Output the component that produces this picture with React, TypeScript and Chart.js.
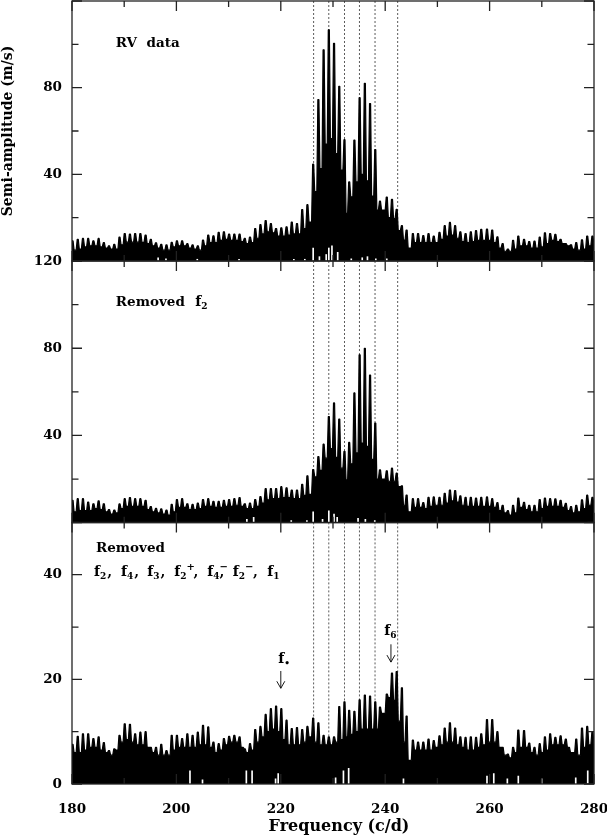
import { useEffect, useRef } from 'react';
import { Chart, registerables, type Plugin } from 'chart.js';

Chart.register(...registerables);

const SERIF = '"DejaVu Serif", serif';

// frequencies of the daily alias comb (c/d)
const peakFreq = [
  180.1, 181.1, 182.1, 183.1, 184.1, 185.1, 186.1, 187.1, 188.1, 189.1, 190.1, 191.1, 192.1, 193.1, 194.1, 195.1,
  196.1, 197.1, 198.1, 199.1, 200.1, 201.1, 202.1, 203.1, 204.1, 205.1, 206.1, 207.1, 208.1, 209.1, 210.1, 211.1,
  212.1, 213.1, 214.1, 215.1, 216.1, 217.1, 218.1, 219.1, 220.1, 221.1, 222.1, 223.1, 224.1, 225.1,
  226.2, 227.2, 228.2, 229.2, 230.2, 231.2, 232.2, 233.1, 234.1, 235.1, 236.1, 237.1, 238.1, 239.0, 240.3, 241.3,
  242.2, 243.2, 244.1,
  245.3, 246.3, 247.3, 248.3, 249.3, 250.4, 251.4, 252.4, 253.4, 254.4, 255.4, 256.4, 257.4, 258.4, 259.5, 260.5,
  261.5, 262.5, 263.5, 264.5, 265.5, 266.6, 267.6, 268.6, 269.6, 270.6, 271.6, 272.6, 273.6, 274.6, 275.6, 276.6,
  277.7, 278.7, 279.7,
];

// RV data: height of each alias peak, and the level of the block after it
const rvPeaks = [
  9.3, 10, 10.4, 10.4, 9.3, 10.4, 8.5, 7, 7.7, 11, 12.7, 12.4, 12.7, 12.7, 12, 10, 8.4, 7.7, 7.4, 8.6, 9.3, 9.3, 8, 7.4, 7,
  9.7, 12, 11.6, 13.2, 13.5, 12.4, 12.4, 12.4, 10.4, 11, 15, 16.8, 18.7, 17.3, 15, 15.3, 15.8, 18, 17.3, 23.7, 26,
  44.7, 74.5, 97.5, 106.7, 100.5, 80.6, 56, 36.5, 55.8, 75.4, 82, 72.7, 51.4, 27.6, 29.5, 28.5, 23.8, 16.3, 14.3,
  12.7, 12.7, 11.7, 12.7, 11.5, 13.2, 16.3, 17.8, 16.3, 13.5, 12.7, 13.5, 14, 14.6, 14.7, 14.3, 11.2, 8, 5.5,
  9.5, 11.5, 10, 9, 9.2, 11, 13, 12.7, 12.3, 10, 8, 7.5, 8.5, 9.8, 11.5, 11.5,
];
const rvBody = [
  5, 5.5, 6.5, 7, 7, 6.5, 6, 5.5, 5.5, 7.5, 8.7, 8.7, 8.7, 8.6, 8, 7, 6, 5, 5, 6.5, 7, 7, 6, 5.5, 5,
  7, 8.5, 8.5, 9.5, 10, 9.5, 9.5, 9, 8, 8.5, 10.5, 12.5, 13.5, 13, 11.5, 11.5, 12, 12.5, 12.5, 15, 18,
  32, 42.7, 54, 56.5, 49.6, 42, 22, 29.6, 36.5, 40, 37, 30, 23.5, 23.5, 20, 19.6, 14, 9.7, 6,
  8.5, 8.5, 8.5, 8.5, 8.5, 10, 11.5, 12, 10.5, 9, 8.5, 9, 9.5, 9.5, 9.5, 8.5, 6, 4.5, 4.5,
  5.5, 7, 7, 6, 6, 6.5, 8, 9.5, 9, 8, 7, 5.5, 5, 5.5, 7, 7.5,
];

// after removing f2
const f2Peaks = [
  10.3, 11, 11, 9.5, 8.7, 10, 8.7, 6, 5.8, 8.6, 11, 11.5, 11, 11, 10.3, 7.4, 6.6, 6.3, 5.8, 8.4, 10.6, 11, 8.7, 8.4, 9,
  10.6, 11, 9.8, 9.8, 10.3, 10.6, 11, 11.5, 8.7, 9, 10.6, 12, 15.6, 15.6, 15.6, 16.5, 16, 15, 15, 17.6, 21.5,
  24.4, 30.3, 36, 48.7, 54.9, 47.5, 32.7, 36.8, 59.5, 77, 80, 67.7, 45.7, 24.2, 23.8, 25, 22.7, 16.9, 12.7,
  11, 11, 9.2, 11.6, 11.8, 11.6, 13.5, 15, 14.7, 12.3, 11.6, 11.6, 11.3, 11.6, 11.8, 11, 9.2, 8, 5.5,
  8, 11.3, 9.3, 8, 8, 10.6, 11.3, 11, 10.9, 10.3, 8.9, 7.4, 8, 10.5, 12.6, 11.6,
];
const f2Body = [
  5, 5.5, 5.5, 5.5, 6.5, 6, 5, 4, 4.5, 6.5, 7.5, 7.5, 7.5, 7.5, 6, 5, 4.5, 4, 3.5, 5, 7, 7, 6, 6, 6.5,
  7.5, 7.5, 7, 7, 7.5, 7.5, 8, 7.5, 6.5, 6.5, 7.5, 9, 10.5, 11, 11, 11.5, 11.5, 11, 11, 12.5, 13,
  21, 24, 29.6, 34, 30, 25, 19.6, 27, 32, 36.5, 35, 29, 20, 20, 19, 19, 16.5, 8, 5,
  7, 7, 6.5, 7.5, 8, 8, 9, 10, 9.5, 8, 7.5, 7.5, 7.5, 7.5, 7.5, 7, 5.5, 4.5, 3.5,
  4.5, 7, 6, 5, 5, 6.5, 7.5, 7.5, 7.5, 7, 5.5, 4.5, 5, 6.5, 8, 8,
];

// after removing all seven frequencies
const allPeaks = [
  7.6, 9.1, 9.6, 9.6, 8.7, 9, 7.9, 6.4, 6.7, 9.3, 11.5, 11.4, 9.6, 9.9, 10, 7, 7, 7.6, 6.4, 9.3, 9.3, 8.7, 9.6, 9.3, 9.9,
  11.2, 10.9, 8, 7.7, 8.7, 9.1, 9.3, 9, 6.7, 7.7, 10.4, 11, 13.3, 14.4, 14.9, 14.4, 12.2, 10.6, 10.8, 10.4, 11,
  12.6, 11.7, 9.3, 9, 9, 14.8, 15.7, 14.1, 13.9, 16.1, 17, 16.8, 15.7, 14.7, 17.2, 21.2, 21.5, 18.4, 13,
  8.4, 8, 8, 8.6, 8.3, 9.2, 10.7, 11.7, 10.7, 9, 8.9, 9, 8.9, 9.6, 12.3, 12.3, 10, 7, 5.7,
  7, 10.3, 10.2, 7.8, 7, 7.7, 9, 9.6, 8.9, 9.2, 8.6, 6, 8.6, 10.7, 11, 10,
];
const allBody = [
  6, 6, 6.5, 7, 7, 6.5, 6, 5.5, 6.5, 8, 8.5, 8, 7.5, 7.5, 7, 6, 5.5, 5.5, 5.5, 6.5, 7, 7, 7, 7, 7.5,
  7.5, 7, 6, 6.5, 7.5, 8, 8, 7, 6, 6.5, 8, 9, 10, 10.5, 10, 8.5, 7.5, 7.5, 7.5, 8, 9,
  8, 7.5, 7.5, 7.5, 8, 8.5, 9, 9.5, 10, 10.5, 10.5, 10.5, 10.5, 13.5, 16.5, 16, 12, 8, 4.5,
  6.5, 6.5, 6.5, 6.5, 7, 7.5, 8, 8, 7.5, 7, 6.5, 6.5, 7, 7.5, 8, 8, 7, 5.5, 5,
  6, 7, 7, 6, 5.5, 6, 6.5, 7.5, 7.5, 7.5, 7, 6, 5.5, 7, 7.5, 7.5,
];

// thin white slits left at the foot of each periodogram
const rvGapFreq = [196.5, 198, 204, 212, 222.5, 224.6, 226.2, 227.4, 228.7, 229.2, 229.8, 230.9, 233.5, 235.6, 236.6, 238.2, 240.3];
const rvGapHeight = [1.5, 1, 0.8, 0.8, 0.8, 0.8, 6, 2, 3, 6, 7, 4, 1, 1.5, 2, 1, 1];
const f2GapFreq = [213.5, 214.8, 222, 225, 226.2, 228, 229.2, 230.2, 230.8, 234.8, 236.2, 238];
const f2GapHeight = [1.5, 2.5, 1, 1, 5, 1.5, 5.5, 4, 2.5, 2, 1.5, 1];
const allGapFreq = [202.6, 205, 213.4, 214.5, 219, 219.5, 230.5, 232, 233, 243.5, 259.5, 260.8, 263.4, 265.5, 270, 276.5, 278.8];
const allGapHeight = [2.5, 0.8, 2.5, 2.5, 1, 2, 1.2, 2.5, 3, 1, 1.5, 2, 1, 1.5, 1, 1.2, 2.5];

// dashed lines mark the known frequencies
const knownFreq = [226.3, 229.2, 232.2, 235.05, 238.05, 242.4];

const xTickLabels = [180, 200, 220, 240, 260, 280];

function envelope(peaks: number[], body: number[]) {
  const pts: { x: number; y: number }[] = [];
  peakFreq.forEach((f, i) => {
    pts.push({ x: f - 0.3, y: i > 0 ? body[i - 1] : body[0] });
    pts.push({ x: f - 0.1, y: peaks[i] });
    pts.push({ x: f + 0.1, y: peaks[i] });
    pts.push({ x: f + 0.3, y: body[i] });
  });
  return pts;
}

interface Symbol {
  f: number;
  v: number;
  sub?: string;
  sup?: string;
  tail?: string;
  tailGap?: number;
}
interface Note {
  text: string;
  f: number;
  v: number;
}
interface Arrow {
  f: number;
  from: number;
  to: number;
}

interface PanelProps {
  top: number;
  bottom: number;
  max: number;
  step: number;
  majorStep: number;
  labels: number[];
  peaks: number[];
  body: number[];
  gapFreq: number[];
  gapHeight: number[];
  notes: Note[];
  symbols: Symbol[];
  arrows: Arrow[];
  yTitle?: string;
  xAxis?: boolean;
}

function drawSymbol(ctx: CanvasRenderingContext2D, x: number, y: number, s: Symbol) {
  ctx.font = `bold 14px ${SERIF}`;
  ctx.fillText('f', x, y);
  const w = ctx.measureText('f').width;
  ctx.font = `bold 9px ${SERIF}`;
  let end = x + w;
  if (s.sub) {
    ctx.fillText(s.sub, x + w, y + 3);
    end += ctx.measureText(s.sub).width;
  }
  if (s.sup) {
    ctx.font = `bold 10px ${SERIF}`;
    ctx.fillText(s.sup, end, y - 6);
  }
  if (s.tail) {
    ctx.font = `bold 14px ${SERIF}`;
    ctx.fillText(s.tail, end + (s.tailGap ?? 1), y);
  }
}

function Panel(props: PanelProps) {
  const canvasRef = useRef<HTMLCanvasElement>(null);

  useEffect(() => {
    if (!canvasRef.current) return;
    const { top, bottom, max, step, majorStep, labels, notes, symbols, arrows } = props;

    const dashes: Plugin = {
      id: 'dashes',
      beforeDatasetsDraw(chart) {
        const { ctx, chartArea, scales } = chart;
        ctx.save();
        ctx.strokeStyle = '#333';
        ctx.lineWidth = 0.8;
        ctx.setLineDash([2, 2]);
        knownFreq.forEach((f) => {
          const x = scales.x.getPixelForValue(f);
          ctx.beginPath();
          ctx.moveTo(x, chartArea.top);
          ctx.lineTo(x, chartArea.bottom);
          ctx.stroke();
        });
        ctx.restore();
      },
    };

    const frame: Plugin = {
      id: 'frame',
      afterDatasetsDraw(chart) {
        const { ctx, chartArea: a, scales } = chart;
        ctx.save();
        ctx.strokeStyle = '#222';
        ctx.lineWidth = 1.3;
        ctx.strokeRect(a.left, a.top, a.right - a.left, a.bottom - a.top);
        // ticks point inward on all four sides
        ctx.beginPath();
        scales.x.ticks.forEach((t) => {
          const x = scales.x.getPixelForValue(t.value);
          const len = t.value % 20 === 0 ? 10 : 6;
          ctx.moveTo(x, a.bottom);
          ctx.lineTo(x, a.bottom - len);
          ctx.moveTo(x, a.top);
          ctx.lineTo(x, a.top + len);
        });
        scales.y.ticks.forEach((t) => {
          const y = scales.y.getPixelForValue(t.value);
          const len = t.value % majorStep === 0 ? 10 : 6.5;
          ctx.moveTo(a.left, y);
          ctx.lineTo(a.left + len, y);
          ctx.moveTo(a.right, y);
          ctx.lineTo(a.right - len, y);
        });
        ctx.stroke();

        ctx.fillStyle = '#000';
        ctx.textAlign = 'left';
        ctx.textBaseline = 'alphabetic';
        notes.forEach((n) => {
          ctx.font = `bold 13.5px ${SERIF}`;
          ctx.fillText(n.text, scales.x.getPixelForValue(n.f), scales.y.getPixelForValue(n.v));
        });
        symbols.forEach((s) => {
          drawSymbol(ctx, scales.x.getPixelForValue(s.f), scales.y.getPixelForValue(s.v), s);
        });
        ctx.strokeStyle = '#000';
        ctx.lineWidth = 0.9;
        arrows.forEach((ar) => {
          const x = scales.x.getPixelForValue(ar.f);
          const y0 = scales.y.getPixelForValue(ar.from);
          const y1 = scales.y.getPixelForValue(ar.to);
          ctx.beginPath();
          ctx.moveTo(x, y0);
          ctx.lineTo(x, y1);
          ctx.moveTo(x - 4, y1 - 7);
          ctx.lineTo(x, y1);
          ctx.lineTo(x + 4, y1 - 7);
          ctx.stroke();
        });
        if (props.xAxis) {
          ctx.font = `bold 16px ${SERIF}`;
          ctx.textAlign = 'center';
          ctx.fillText('Frequency (c/d)', 339, 831);
        }
        ctx.restore();
      },
    };

    const chart = new Chart(canvasRef.current, {
      type: 'line',
      data: {
        datasets: [
          {
            type: 'bar',
            data: props.gapFreq.map((f, i) => ({ x: f, y: props.gapHeight[i] })),
            backgroundColor: '#fff',
            barThickness: 1,
            order: 1,
          },
          {
            type: 'line',
            data: envelope(props.peaks, props.body),
            borderColor: '#000',
            backgroundColor: '#000',
            borderWidth: 1.2,
            borderJoinStyle: 'bevel',
            pointRadius: 0,
            tension: 0,
            fill: 'origin',
            order: 2,
          },
        ] as any,
      },
      options: {
        responsive: false,
        animation: false,
        events: [],
        layout: { padding: { top, bottom: 836 - bottom - (props.xAxis ? 40 : 0), left: 0, right: 13 } },
        plugins: { legend: { display: false }, tooltip: { enabled: false } },
        scales: {
          x: {
            type: 'linear',
            min: 180,
            max: 280,
            offset: false,
            grid: { display: false, drawTicks: false },
            border: { display: false },
            afterFit: (s: any) => {
              s.height = props.xAxis ? 40 : 0;
              s.paddingLeft = 0;
              s.paddingRight = 0;
            },
            ticks: {
              stepSize: 10,
              autoSkip: false,
              maxRotation: 0,
              display: !!props.xAxis,
              padding: 17,
              color: '#000',
              font: { family: SERIF, weight: 'bold', size: 13.5 },
              callback: (v) => (xTickLabels.includes(Number(v)) ? String(v) : ''),
            },
          },
          y: {
            min: 0,
            max,
            grid: { display: false, drawTicks: false },
            border: { display: false },
            afterFit: (s: any) => {
              s.width = 72;
              s.paddingTop = 0;
              s.paddingBottom = 0;
            },
            title: {
              display: !!props.yTitle,
              text: props.yTitle,
              color: '#000',
              padding: 0,
              font: { family: SERIF, weight: 'bold', size: 14 },
            },
            ticks: {
              stepSize: step,
              autoSkip: false,
              padding: 10,
              color: '#000',
              font: { family: SERIF, weight: 'bold', size: 13.5 },
              callback: (v) => (labels.includes(Number(v)) ? String(v) : ''),
            },
          },
        },
      },
      plugins: [dashes, frame],
    });
    return () => { chart.destroy(); };
  }, []);

  return (
    <canvas
      ref={canvasRef}
      width={607}
      height={836}
      style={{ position: 'absolute', left: 0, top: 0, width: 607, height: 836 }}
    />
  );
}

export default function App() {
  return (
    <div style={{ position: 'absolute', left: 0, top: 0, width: 607, height: 836, background: '#fff', overflow: 'hidden' }}>
      <Panel
        top={1}
        bottom={261}
        max={120}
        step={20}
        majorStep={40}
        labels={[40, 80]}
        peaks={rvPeaks}
        body={rvBody}
        gapFreq={rvGapFreq}
        gapHeight={rvGapHeight}
        notes={[{ text: 'RV  data', f: 188.4, v: 99 }]}
        symbols={[]}
        arrows={[]}
        yTitle="Semi-amplitude (m/s)"
      />
      <Panel
        top={261}
        bottom={522.7}
        max={120}
        step={20}
        majorStep={40}
        labels={[40, 80, 120]}
        peaks={f2Peaks}
        body={f2Body}
        gapFreq={f2GapFreq}
        gapHeight={f2GapHeight}
        notes={[{ text: 'Removed', f: 188.4, v: 99.3 }]}
        symbols={[{ f: 203.6, v: 99.3, sub: '2' }]}
        arrows={[]}
      />
      <Panel
        top={522.4}
        bottom={784}
        max={50}
        step={10}
        majorStep={20}
        labels={[0, 20, 40]}
        peaks={allPeaks}
        body={allBody}
        gapFreq={allGapFreq}
        gapHeight={allGapHeight}
        notes={[{ text: 'Removed', f: 184.6, v: 44.3 }]}
        symbols={[
          { f: 184.2, v: 39.7, sub: '2', tail: ',' },
          { f: 189.4, v: 39.7, sub: '4', tail: ',' },
          { f: 194.4, v: 39.7, sub: '3', tail: ',' },
          { f: 199.6, v: 39.7, sub: '2', sup: '+', tail: ',', tailGap: 7 },
          { f: 205.9, v: 39.7, sub: '4', sup: '−', tail: ',', tailGap: 0 },
          { f: 210.8, v: 39.7, sub: '2', sup: '−', tail: ',', tailGap: 8 },
          { f: 217.4, v: 39.7, sub: '1' },
          { f: 219.5, v: 23.1, sub: '•' },
          { f: 239.8, v: 28.5, sub: '6' },
        ]}
        arrows={[
          { f: 220, from: 21.6, to: 18.3 },
          { f: 241.1, from: 26.7, to: 23.3 },
        ]}
        xAxis
      />
    </div>
  );
}
